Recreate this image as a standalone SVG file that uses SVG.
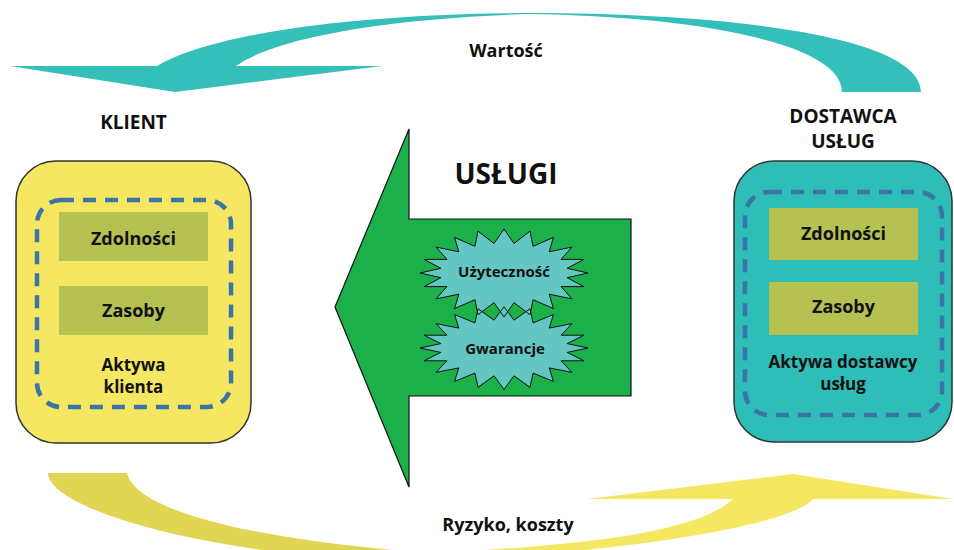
<svg xmlns="http://www.w3.org/2000/svg" xmlns:xlink="http://www.w3.org/1999/xlink" width="954" height="550" viewBox="0 0 954 550">
  <style>
    text { font-family: "Open Sans", "Liberation Sans", sans-serif; font-weight: bold; fill: #111; text-anchor: middle; }
    .hdr { font-size: 19px; }
    .lbl { font-size: 18px; }
    .lbl2 { font-size: 17px; }
    .burst-lbl { font-size: 15px; }
    .big { font-size: 28px; }
    .asset-box { stroke: #333; stroke-width: 1.5; }
    .dash { fill: none; stroke: #3b74a6; stroke-width: 4.5; stroke-dasharray: 13 9; }
    .cell { fill: #b5c252; }
    .burst-fill { fill: #63c6c2; }
    .burst-line { fill: none; stroke: #111; stroke-width: 1; }
  </style>
  <defs>
    <linearGradient id="riskGrad" gradientUnits="userSpaceOnUse" x1="0" y1="0" x2="954" y2="0">
      <stop offset="0" stop-color="#e1d554"/>
      <stop offset="0.45" stop-color="#e1d554"/>
      <stop offset="0.45" stop-color="#f6e762"/>
      <stop offset="1" stop-color="#f6e762"/>
    </linearGradient>
    <polygon id="burst" points="84,0 63.2,4.7 79.9,13.6 57,13.6 68,25.9 45.2,21.2 49.4,35.6 29.1,26.7 26,41.8 10,29.6 0,44 -10,29.6 -26,41.8 -29.1,26.7 -49.4,35.6 -45.2,21.2 -68,25.9 -57,13.6 -79.9,13.6 -63.2,4.7 -84,0 -63.2,-4.7 -79.9,-13.6 -57,-13.6 -68,-25.9 -45.2,-21.2 -49.4,-35.6 -29.1,-26.7 -26,-41.8 -10,-29.6 0,-44 10,-29.6 26,-41.8 29.1,-26.7 49.4,-35.6 45.2,-21.2 68,-25.9 57,-13.6 79.9,-13.6 63.2,-4.7"/>
  </defs>

  <!-- flows between the two parties -->
  <g id="connectors">
    <g id="flow-value">
      <path fill="#35bfbb" d="M157,66 C200,40 320,14 530,13 C720,13 921,35 921,92 L842,92 C842,40 680,16 530,14 C400,18 280,35 236,66 Z"/>
      <polygon fill="#35bfbb" points="10,66 382,66 175,92"/>
      <text class="lbl" x="506" y="57">Wartość</text>
    </g>
    <g id="flow-risk">
      <path fill="url(#riskGrad)" d="M48,473 L127,473 C135,510 250,540 430,553 C600,545 700,530 733,499 L587,499 L793,474 L953,499 L813,499 C795,520 680,548 430,562 C220,560 48,510 48,473 Z"/>
      <text class="lbl" x="508" y="531">Ryzyko, koszty</text>
    </g>
  </g>

  <!-- customer -->
  <g id="client">
    <text class="hdr" x="133.5" y="129">KLIENT</text>
    <rect class="asset-box" x="16" y="161" width="235" height="282" rx="40" fill="#f6e762"/>
    <rect class="dash" x="37" y="200" width="194" height="207" rx="24"/>
    <rect class="cell" x="59" y="212" width="149" height="49"/>
    <text class="lbl" x="133.5" y="245">Zdolności</text>
    <rect class="cell" x="59" y="286" width="149" height="49"/>
    <text class="lbl" x="133.5" y="317">Zasoby</text>
    <text class="lbl2" x="133.5" y="371">Aktywa</text>
    <text class="lbl2" x="133.5" y="393">klienta</text>
  </g>

  <!-- service provider -->
  <g id="provider">
    <text class="hdr" x="843" y="123">DOSTAWCA</text>
    <text class="hdr" x="843" y="148">USŁUG</text>
    <rect class="asset-box" x="734" y="161" width="218" height="281" rx="40" fill="#2ebdb7"/>
    <rect class="dash" x="745" y="192" width="197" height="223" rx="24"/>
    <rect class="cell" x="769" y="208" width="149" height="52"/>
    <text class="lbl" x="843.5" y="240">Zdolności</text>
    <rect class="cell" x="769" y="282" width="149" height="53"/>
    <text class="lbl" x="843.5" y="313">Zasoby</text>
    <text class="lbl2" x="843" y="368">Aktywa dostawcy</text>
    <text class="lbl2" x="843" y="390">usług</text>
  </g>

  <!-- services arrow -->
  <g id="services">
    <polygon fill="#1bb04a" stroke="#111" stroke-width="1.2" points="409,129 335,307 409,487 409,396 631,396 631,219 409,219"/>
    <text class="big" x="506" y="184">USŁUGI</text>
    <use href="#burst" class="burst-fill" transform="translate(504,273)"/>
    <use href="#burst" class="burst-fill" transform="translate(504,348) scale(1,0.94)"/>
    <use href="#burst" class="burst-line" transform="translate(504,273)"/>
    <use href="#burst" class="burst-line" transform="translate(504,348) scale(1,0.94)"/>
  </g>
  <g id="utility">
    <text class="burst-lbl" x="504" y="277">Użyteczność</text>
  </g>
  <g id="warranty">
    <text class="burst-lbl" x="505" y="354">Gwarancje</text>
  </g>
</svg>
